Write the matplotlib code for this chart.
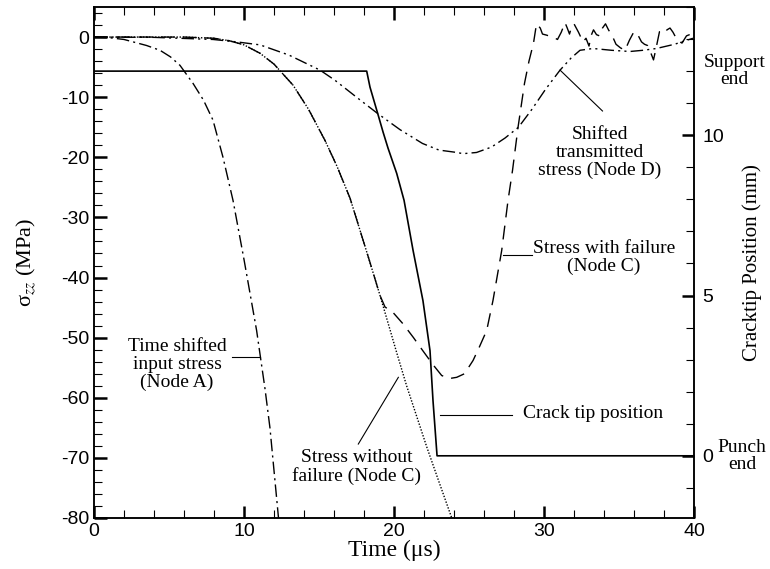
import matplotlib
matplotlib.use('Agg')
import matplotlib.pyplot as plt
from matplotlib.ticker import MultipleLocator
import matplotlib.transforms as mtransforms

plt.rcParams['font.family'] = 'Liberation Serif'
plt.rcParams['mathtext.fontset'] = 'stix'
plt.rcParams['axes.unicode_minus'] = False

# time shifted input stress (Node A)
t_a = [0, 1, 2, 2.6, 3.5, 4.4, 5.1, 5.73, 6.6, 7.3, 7.93, 8.6, 9.27, 10.0, 10.84, 11.4, 11.73, 12.3]
s_a = [0, -0.1, -0.4, -0.8, -1.4, -2.2, -3.3, -4.7, -7.7, -10.5, -13.8, -20, -27.2, -37, -48.8, -58.5, -65, -80]

# stress without failure (Node C)
t_c0 = [0, 2, 4, 6, 8, 9, 10, 11.07, 12, 13.27, 14.3, 15.4, 16.2, 17.07, 18.4, 19.07, 20.18, 20.84, 21.5, 22.2, 23, 23.85]
s_c0 = [0, 0, 0, 0, -0.2, -0.6, -1.3, -2.7, -4.5, -8, -12, -17.2, -21.5, -26.8, -37.5, -43, -52.5, -58, -63, -68.3, -74, -80]

# stress with failure (Node C)
t_c = [0, 2, 4, 6, 8, 9, 10, 11.07, 12, 13.27, 14.3, 15.4, 16.2, 17.07, 18.4, 19.07, 19.4, 19.93, 20.6, 21.3,
       21.93, 22.6, 23.18, 23.7, 24.18, 24.7, 25.27, 25.7, 26.18, 26.6, 26.9, 27.18, 27.6, 27.9, 28.27, 28.7,
       29.0, 29.3, 29.5, 29.75, 29.9, 30.2, 30.5, 30.75, 30.9, 31.15, 31.4, 31.55, 31.7, 31.85, 32.0, 32.3,
       32.6, 32.8, 33.0, 33.15, 33.3, 33.5, 33.7, 33.9, 34.1, 34.3, 34.55, 34.8, 35.1, 35.4, 35.7, 36.0, 36.25,
       36.5, 36.7, 36.9, 37.1, 37.3, 37.5, 37.7, 38.0, 38.2, 38.4, 38.6, 38.9, 39.2, 39.5, 39.8, 40]
s_c = [0, 0, 0, 0, -0.2, -0.6, -1.3, -2.7, -4.5, -8, -12, -17.2, -21.5, -26.8, -37.5, -43, -44.9, -45.8, -47.7, -50,
       -52.2, -54.5, -56.3, -56.8, -56.6, -56, -53.8, -51.5, -48.8, -43.8, -39.5, -35.5, -27.2, -22.2, -15, -7.7,
       -4, -1, 2.2, 1.5, 0.5, 0.3, 0, -0.2, -0.4, 0.8, 2.4, 1.5, 0.5, 1.8, 2.2, 0.8,
       -0.8, -0.2, -1.5, 0.3, 1.2, 0.4, 0.2, 1.5, 2.2, 1.2, 0.2, -1.2, -1.8, -2.2, -0.5, 0.9, 0.4,
       -0.8, -1.2, -1.4, -2.5, -3.8, -1.5, 0.9, 0.6, 1.2, 1.5, 0.8, -0.6, -1.0, 0.2, 0.5, -0.3]

# shifted transmitted stress (Node D)
t_d = [0, 4, 7.93, 9.5, 11.07, 13, 15.07, 16.07, 17.5, 18.9, 20.4, 21.9, 23, 24.2, 24.6, 25.5, 26.5, 27.4,
       28.3, 29.2, 30.1, 31.07, 31.8, 32.4, 33.27, 34.5, 35.73, 36.6, 37.5, 38.7, 39.93]
s_d = [0, -0.05, -0.4, -0.8, -1.3, -3, -5.5, -7.2, -10, -12.7, -15.4, -17.7, -18.8, -19.2, -19.4, -19.2, -18.3, -16.8,
       -15, -12, -8.7, -5.5, -3.5, -2.2, -1.9, -2.2, -2.4, -2.2, -1.9, -1.2, -0.2]

# crack tip position (mm)
t_tip = [0, 18.18, 18.4, 18.95, 19.27, 19.6, 20.18, 20.67, 21.27, 21.93, 22.4, 22.6, 22.87, 40]
x_tip = [12, 12, 11.5, 10.62, 10.1, 9.6, 8.81, 7.97, 6.41, 4.84, 3.28, 1.72, 0, 0]

fig = plt.figure(figsize=(7.7, 5.69), dpi=100)
ax = fig.add_axes([94/770, 1-518/569, 600/770, 511/569])
ax2 = ax.twinx()

ax.plot(t_a, s_a, 'k', lw=1.0, linestyle=(0, (9, 3, 1.5, 3)))
ax.plot(t_c0, s_c0, 'k', lw=1.0, linestyle=(0, (1, 1.2)))
ax.plot(t_c, s_c, 'k', lw=1.0, linestyle=(0, (10, 6)))
ax.plot(t_d, s_d, 'k', lw=1.0, linestyle=(0, (9, 3, 1.5, 3, 1.5, 3)))
ax2.plot(t_tip, x_tip, 'k', lw=1.2)

ax.set_xlim(0, 40)
ax.set_ylim(-80, 5)
ax2.set_ylim(-1.94, 14.0)

ax.xaxis.set_major_locator(MultipleLocator(10))
ax.xaxis.set_minor_locator(MultipleLocator(2))
ax.yaxis.set_major_locator(MultipleLocator(10))
ax.yaxis.set_minor_locator(MultipleLocator(2))
ax2.yaxis.set_minor_locator(MultipleLocator(1))
ax2.set_yticks([0, 5, 10])

ax.tick_params(which='both', direction='in', top=True, right=False, labelsize=14,
               labelfontfamily='Liberation Sans')
ax.tick_params(which='major', length=9, width=1.8)
ax.tick_params(which='minor', length=5.5, width=0.8)
ax2.tick_params(which='both', direction='in', labelsize=14, labelfontfamily='Liberation Sans')
ax2.tick_params(which='major', length=9, width=1.8, pad=6)
ax2.tick_params(which='minor', length=5.5, width=0.8)
for a in (ax, ax2):
    for sp in a.spines.values():
        sp.set_linewidth(1.1)

ax.set_xlabel('Time (μs)', fontsize=17, labelpad=0)
ax.text(-0.112, 0.5, 'σ$_{zz}$ (MPa)', transform=ax.transAxes, rotation=90,
        ha='center', va='center', fontsize=16)
ax2.text(1.097, 0.5, 'Cracktip Position (mm)', transform=ax2.transAxes, rotation=90,
         ha='center', va='center', fontsize=15)

trans = mtransforms.blended_transform_factory(ax2.transAxes, ax2.transData)
ax2.text(1.068, 12, 'Support\nend', transform=trans, ha='center', va='center', fontsize=14, linespacing=1.0)
ax2.text(1.08, 0, 'Punch\nend', transform=trans, ha='center', va='center', fontsize=14, linespacing=1.0)

ax.plot([9.18, 11.07], [-53.3, -53.3], 'k', lw=0.8)
ax.text(5.53, -54.5, 'Time shifted\ninput stress\n(Node A)', ha='center', va='center', fontsize=14, linespacing=1.05)

ax.plot([20.29, 17.62], [-56.6, -67.7], 'k', lw=0.8)
ax.text(17.53, -71.5, 'Stress without\nfailure (Node C)', ha='center', va='center', fontsize=14, linespacing=1.05)

ax.plot([23.07, 27.85], [-62.8, -62.8], 'k', lw=0.8)
ax.text(28.6, -62.7, 'Crack tip position', ha='left', va='center', fontsize=14)

ax.plot([27.27, 29.18], [-36.3, -36.3], 'k', lw=0.8)
ax.text(29.27, -36.7, 'Stress with failure\n(Node C)', ha='left', va='center', fontsize=14,
        linespacing=1.05, multialignment='center')

ax.plot([31.07, 33.9], [-5.5, -12.3], 'k', lw=0.8)
ax.text(33.7, -19.2, 'Shifted\ntransmitted\nstress (Node D)', ha='center', va='center', fontsize=14, linespacing=1.05)

fig.savefig('out.png', dpi=100)
